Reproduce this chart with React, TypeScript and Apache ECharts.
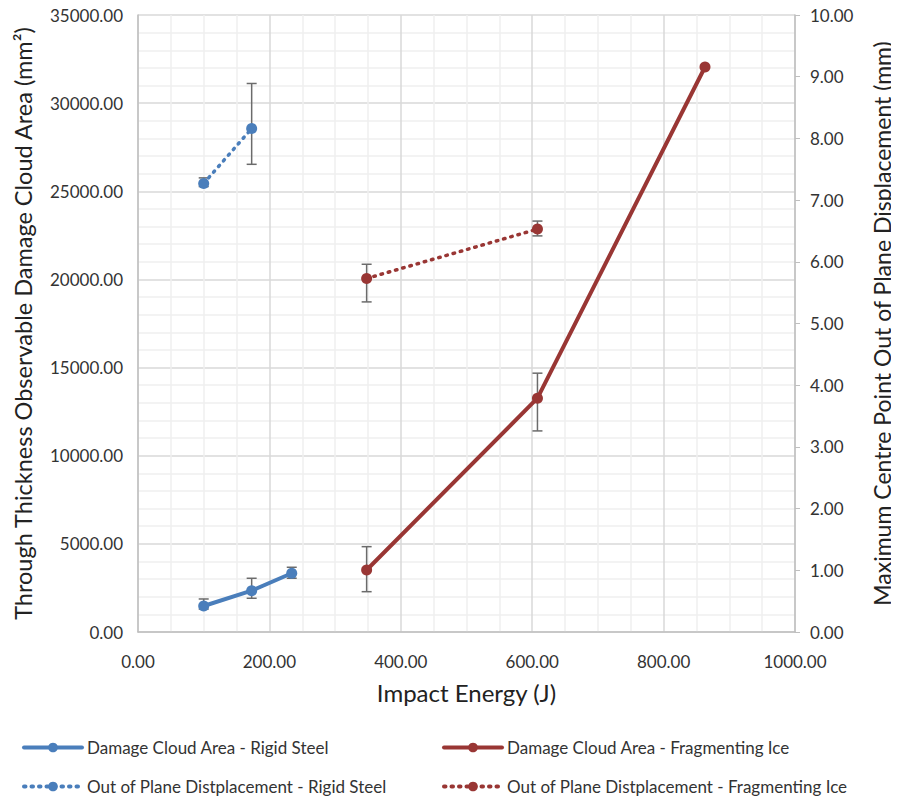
import React, { useEffect, useRef } from "react";
import * as echarts from "echarts";

// Impact energy (J) for each test group
const steelEnergy = [100, 173, 234];
const iceEnergy = [348, 608, 863];

// Through-thickness damage cloud area (mm²) with error bar bounds
const steelArea = [1475, 2344, 3331];
const steelAreaLow = [1300, 1913, 3050];
const steelAreaHigh = [1873, 3048, 3672];
const iceArea = [3519, 13263, 32050];
const iceAreaLow = [2287, 11407, null];
const iceAreaHigh = [4841, 14682, null];

// Maximum centre point out-of-plane displacement (mm) with error bar bounds
const steelDispEnergy = [100, 173];
const steelDisp = [7.27, 8.16];
const steelDispLow = [7.22, 7.58];
const steelDispHigh = [7.36, 8.89];
const iceDispEnergy = [348, 608];
const iceDisp = [5.73, 6.53];
const iceDispLow = [5.35, 6.42];
const iceDispHigh = [5.96, 6.66];

const seriesNames = [
  "Damage Cloud Area - Rigid Steel",
  "Damage Cloud Area - Fragmenting Ice",
  "Out of Plane Distplacement - Rigid Steel",
  "Out of Plane Distplacement - Fragmenting Ice",
];

const BLUE = "#4a7ebb";
const RED = "#993634";
const FONT = "Lato, 'Liberation Sans', sans-serif";

const pairs = (xs: number[], ys: number[]) => xs.map((x, i) => [x, ys[i]]);
const bars = (xs: number[], lo: (number | null)[], hi: (number | null)[]) =>
  xs
    .map((x, i) => [x, lo[i], hi[i]])
    .filter((d) => d[1] != null && d[2] != null);

const errorBarSeries = (data: any[], yAxisIndex: number) => ({
  type: "custom",
  yAxisIndex,
  z: 1,
  silent: true,
  encode: { x: 0, y: [1, 2] },
  data,
  renderItem: (params: any, api: any) => {
    const x = api.value(0);
    const lo = api.coord([x, api.value(1)]);
    const hi = api.coord([x, api.value(2)]);
    const cap = 5;
    const style = { stroke: "#6b6b6b", lineWidth: 1.5 };
    return {
      type: "group",
      children: [
        { type: "line", shape: { x1: lo[0], y1: lo[1], x2: hi[0], y2: hi[1] }, style },
        { type: "line", shape: { x1: lo[0] - cap, y1: lo[1], x2: lo[0] + cap, y2: lo[1] }, style },
        { type: "line", shape: { x1: hi[0] - cap, y1: hi[1], x2: hi[0] + cap, y2: hi[1] }, style },
      ],
    };
  },
});

const lineSeries = (name: string, data: number[][], color: string, dotted: boolean, yAxisIndex: number) => ({
  name,
  type: "line",
  yAxisIndex,
  z: 3,
  data,
  symbol: "circle",
  symbolSize: 11,
  itemStyle: { color },
  lineStyle: { color, width: dotted ? 3.5 : 4, type: dotted ? [1.5, 6] : "solid", cap: "round" },
});

const legendAt = (name: string, left: number, top: number) => ({
  data: [name],
  left,
  top,
  itemWidth: 58,
  itemHeight: 12,
  lineStyle: { width: 4 },
  textStyle: { fontSize: 17, color: "#333", fontFamily: FONT },
});

export default function App() {
  const ref = useRef<HTMLDivElement>(null);

  useEffect(() => {
    if (!ref.current) return;
    const chart = echarts.init(ref.current, undefined, { renderer: "svg" });
    const axisText = { fontSize: 17, color: "#333", fontFamily: FONT };
    chart.setOption({
      animation: false,
      backgroundColor: "#ffffff",
      grid: { left: 138, right: 104, top: 15, bottom: 171, outerBoundsMode: "none", containLabel: false },
      legend: [
        legendAt(seriesNames[0], 17, 734),
        legendAt(seriesNames[1], 437, 734),
        legendAt(seriesNames[2], 17, 773),
        legendAt(seriesNames[3], 437, 773),
      ],
      xAxis: {
        type: "value",
        min: 0,
        max: 1000,
        interval: 200,
        name: "Impact Energy (J)",
        nameLocation: "middle",
        nameGap: 48,
        nameTextStyle: { fontSize: 24, color: "#222", fontFamily: FONT },
        axisLine: { show: true, lineStyle: { color: "#bfbfbf", width: 1.5 } },
        axisTick: { show: false },
        axisLabel: { ...axisText, margin: 21, formatter: (v: number) => v.toFixed(2) },
        splitLine: { show: true, lineStyle: { color: "#d9d9d9", width: 1.5 } },
        minorTick: { show: false, splitNumber: 4 },
        minorSplitLine: { show: true, lineStyle: { color: "#efefef", width: 1.5 } },
      },
      yAxis: [
        {
          type: "value",
          min: 0,
          max: 35000,
          interval: 5000,
          name: "Through Thickness Observable Damage Cloud Area (mm²)",
          nameLocation: "middle",
          nameRotate: 90,
          nameGap: 103,
          nameTextStyle: { fontSize: 23.5, color: "#222", fontFamily: FONT },
          axisLine: { show: true, lineStyle: { color: "#bfbfbf", width: 1.5 } },
          axisTick: { show: false },
          axisLabel: { ...axisText, margin: 15, formatter: (v: number) => v.toFixed(2) },
          splitLine: { show: true, lineStyle: { color: "#d9d9d9", width: 1.5 } },
          minorTick: { show: false, splitNumber: 5 },
          minorSplitLine: { show: true, lineStyle: { color: "#efefef", width: 1.5 } },
        },
        {
          type: "value",
          min: 0,
          max: 10,
          interval: 1,
          position: "right",
          name: "Maximum Centre Point Out of Plane Displacement (mm)",
          nameLocation: "middle",
          nameRotate: 90,
          nameGap: 75,
          nameTextStyle: { fontSize: 23, color: "#222", fontFamily: FONT },
          axisLine: { show: true, lineStyle: { color: "#bfbfbf", width: 1.5 } },
          axisTick: { show: true, length: 5, lineStyle: { color: "#bfbfbf" } },
          axisLabel: { ...axisText, margin: 15, formatter: (v: number) => v.toFixed(2) },
          splitLine: { show: false },
        },
      ],
      series: [
        errorBarSeries(bars(steelEnergy, steelAreaLow, steelAreaHigh), 0),
        errorBarSeries(bars(iceEnergy, iceAreaLow, iceAreaHigh), 0),
        errorBarSeries(bars(steelDispEnergy, steelDispLow, steelDispHigh), 1),
        errorBarSeries(bars(iceDispEnergy, iceDispLow, iceDispHigh), 1),
        lineSeries(seriesNames[0], pairs(steelEnergy, steelArea), BLUE, false, 0),
        lineSeries(seriesNames[1], pairs(iceEnergy, iceArea), RED, false, 0),
        lineSeries(seriesNames[2], pairs(steelDispEnergy, steelDisp), BLUE, true, 1),
        lineSeries(seriesNames[3], pairs(iceDispEnergy, iceDisp), RED, true, 1),
      ],
    });
    return () => chart.dispose();
  }, []);

  return <div ref={ref} style={{ width: 899, height: 803, marginLeft: -8, marginTop: -8 }} />;
}
